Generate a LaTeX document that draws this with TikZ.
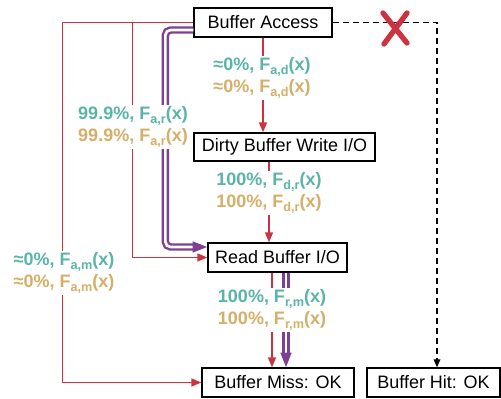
\documentclass[tikz,border=0pt]{standalone}
\usepackage{fontspec}
\setmainfont{Liberation Sans}
\usetikzlibrary{arrows.meta,calc}
\definecolor{cred}{RGB}{205,50,64}
\definecolor{cteal}{RGB}{90,180,168}
\definecolor{cgold}{RGB}{213,175,104}
\definecolor{cpurp}{RGB}{125,65,145}
\newcommand\subx[1]{\raisebox{-0.35ex}{\fontsize{9.5}{10}\selectfont #1}}
\newcommand\twolines[2]{{\color{cteal}#1}\\{\color{cgold}#2}}
\begin{document}
\begin{tikzpicture}[x=0.75pt,y=-0.75pt,
 box/.style={draw=black,line width=1pt,inner sep=0pt,font=\fontsize{13.5}{16}\selectfont},
 lbl/.style={fill=white,inner sep=1.5pt,align=center,font=\fontsize{13.5}{16.5}\selectfont\bfseries},
 redln/.style={draw=cred,line width=1.1pt},
 redarr/.style={redln,-{Triangle[length=7.5pt,width=6pt]}},
 purp/.style={draw=cpurp,double=white,line width=1.8pt,double distance=2pt},
 purparr/.style={purp,-{Triangle[length=11pt,width=8pt]}},
 dasharr/.style={draw=black,line width=1pt,dash pattern=on 4.5pt off 3pt,-{Triangle[length=6pt,width=5pt]}},
]
\useasboundingbox (0,0) rectangle (501,399);
\node[box,minimum width=103.5pt,minimum height=21.75pt] (ba) at (263,22.5) {Buffer Access};
\node[box,minimum width=135.75pt,minimum height=21pt] (db) at (284.5,147) {Dirty Buffer Write I/O};
\node[box,minimum width=104.25pt,minimum height=21.75pt] (rd) at (277.5,257.5) {Read Buffer I/O};
\node[box,minimum width=114pt,minimum height=21.75pt] (miss) at (278,382.5) {Buffer Miss: OK};
\node[box,minimum width=99.75pt,minimum height=21.75pt] (hit) at (433.5,382.5) {Buffer Hit: OK};

\draw[redarr] (ba.south) -- (ba.south |- db.north);
\draw[redarr] ($(db.south)+(-15.5,0)$) -- ($(rd.north)+(-8.5,0)$);
\draw[redarr] ($(rd.south)+(-5.5,0)$) -- ($(miss.north)+(-6,0)$);
\draw[purparr] ($(rd.south)+(8.5,0)$) -- ($(miss.north)+(8,0)$);
\draw[redarr] (ba.west) -- ++(-131,0) |- (miss.west);
\draw[redarr] (ba.west) -- ++(-61,0) |- (rd.west);
\draw[purparr,rounded corners=4pt] ($(ba.west)+(0,7.5)$) -- ++(-28,0) |- ($(rd.west)+(0,-10.5)$);
\draw[dasharr] (ba.east) -| ($(hit.north)+(3.5,0)$);

\draw[cred,line width=4pt,line cap=round] (383,13) -- (407,43) (407,13) -- (384,44);

\node[lbl] (l1) at (262,78) {\twolines{≈0\%, F\subx{a,d}(x)}{≈0\%, F\subx{a,d}(x)}};
\node[lbl] (l2) at (133,127) {\twolines{99.9\%, F\subx{a,r}(x)}{99.9\%, F\subx{a,r}(x)}};
\node[lbl] (l3) at (269,193) {\twolines{100\%, F\subx{d,r}(x)}{100\%, F\subx{d,r}(x)}};
\node[lbl] (l4) at (272,310) {\twolines{100\%, F\subx{r,m}(x)}{100\%, F\subx{r,m}(x)}};
\node[lbl] (l5) at (64,273) {\twolines{≈0\%, F\subx{a,m}(x)}{≈0\%, F\subx{a,m}(x)}};
\end{tikzpicture}
\end{document}
